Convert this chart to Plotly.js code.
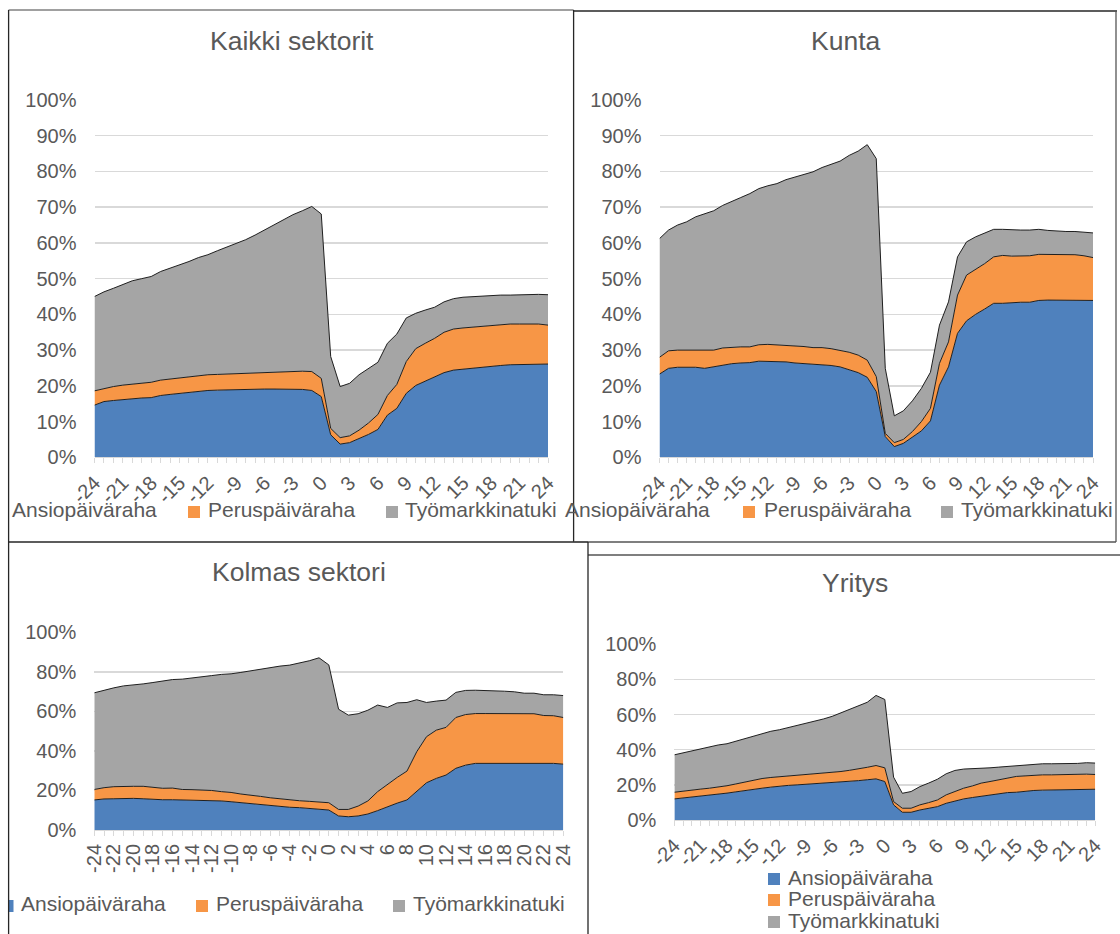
<!DOCTYPE html>
<html><head><meta charset="utf-8">
<script src="https://cdn.plot.ly/plotly-3.0.1.min.js"></script>
<style>html,body{margin:0;padding:0;background:#fff}#chart{width:1120px;height:934px}</style>
</head><body><div id="chart"></div>
<script>
const months = [-24,-23,-22,-21,-20,-19,-18,-17,-16,-15,-14,-13,-12,-11,-10,-9,-8,-7,-6,-5,-4,-3,-2,-1,0,1,2,3,4,5,6,7,8,9,10,11,12,13,14,15,16,17,18,19,20,21,22,23,24];
const seriesNames = ['Ansiopäiväraha','Peruspäiväraha','Työmarkkinatuki'];
const seriesColors = ['#4F81BD','#F79646','#A5A5A5'];
const panelTitles = ['Kaikki sektorit','Kunta','Kolmas sektori','Yritys'];
const ticksEvery3 = [-24,-21,-18,-15,-12,-9,-6,-3,0,3,6,9,12,15,18,21,24];
const ticksEvery2 = [-24,-22,-20,-18,-16,-14,-12,-10,-8,-6,-4,-2,0,2,4,6,8,10,12,14,16,18,20,22,24];

// Kaikki sektorit (%)
const kaikkiAnsio = [14.6,15.6,15.9,16.2,16.4,16.6,16.7,17.3,17.6,17.9,18.2,18.6,18.7,18.8,18.9,19.0,19.0,19.1,19.1,19.1,19.1,19.1,19.0,18.7,17.0,6.3,3.7,4.1,5.2,6.4,7.8,11.8,13.7,17.9,20.1,21.3,22.4,23.7,24.4,24.7,24.9,25.1,25.5,25.7,25.9,25.9,25.9,26.0,26.1];
const kaikkiPerus = [4.0,3.7,3.9,4.0,4.1,4.2,4.3,4.3,4.3,4.3,4.3,4.4,4.4,4.4,4.4,4.4,4.5,4.5,4.6,4.7,4.8,5.0,5.1,5.3,5.1,1.8,1.8,1.9,2.4,3.2,4.2,5.5,6.7,8.9,10.3,10.6,10.9,11.3,11.5,11.5,11.5,11.5,11.5,11.5,11.4,11.4,11.4,11.3,10.9];
const kaikkiTyo = [26.4,27.0,27.5,28.2,28.9,29.2,29.6,30.4,31.0,31.7,32.3,32.9,33.6,34.6,35.5,36.5,37.4,38.6,39.9,41.3,42.6,43.8,44.9,46.2,46.0,20.1,14.3,14.7,15.5,15.3,14.6,14.6,14.1,12.2,9.9,9.3,8.7,8.5,8.5,8.6,8.6,8.5,8.3,8.2,8.1,8.2,8.1,8.3,8.5];

// Kunta (%)
const kuntaAnsio = [23.3,24.9,25.2,25.2,25.2,24.9,25.3,25.9,26.2,26.4,26.5,26.9,26.9,26.8,26.7,26.4,26.2,26.0,26.0,25.7,25.3,24.4,23.7,22.4,18.4,5.8,3.0,3.9,5.6,7.4,10.2,20.2,25.3,34.7,38.2,40.0,41.5,43.1,43.1,43.3,43.4,43.4,43.9,44.0,44.0,43.9,44.0,43.9,43.9];
const kuntaPerus = [4.7,4.9,4.8,4.8,4.8,5.0,4.7,4.7,4.6,4.5,4.4,4.6,4.7,4.7,4.7,4.9,4.8,4.7,4.7,4.7,4.7,5.0,4.9,4.8,4.2,0.9,1.1,1.1,1.6,2.6,3.5,6.1,7.0,10.7,12.8,12.6,12.7,13.0,13.4,13.0,12.9,13.0,12.9,12.8,12.8,12.9,12.7,12.5,12.0];
const kuntaTyo = [33.2,33.8,35.0,35.9,37.3,38.3,39.0,39.9,40.9,41.8,42.9,43.7,44.4,45.1,46.3,47.2,48.1,49.2,50.4,51.5,52.9,55.1,57.1,60.3,61.0,18.2,7.5,8.0,8.6,9.3,10.1,10.7,11.2,10.7,9.3,9.1,8.6,7.7,7.3,7.3,7.3,7.2,7.0,6.7,6.5,6.4,6.5,6.6,6.9];

// Kolmas sektori (%)
const kolmasAnsio = [15.2,15.7,15.8,16.0,16.0,15.8,15.5,15.3,15.3,15.2,15.2,15.0,15.0,14.7,14.3,13.8,13.3,12.8,12.3,11.8,11.5,11.3,10.9,10.6,10.1,7.1,6.7,7.1,8.1,9.8,11.8,13.6,15.2,19.4,23.9,26.1,27.8,31.2,32.8,33.7,33.7,33.9,34.0,34.0,34.0,34.0,33.7,33.7,33.3];
const kolmasPerus = [5.3,5.7,6.1,6.1,6.1,6.3,6.1,5.8,5.9,5.3,5.2,5.2,5.0,4.7,4.7,4.4,4.4,4.2,4.0,3.9,3.7,3.5,3.6,3.5,3.7,3.3,3.7,5.0,6.6,9.6,11.3,13.0,14.6,20.2,23.3,24.4,24.1,25.7,25.6,25.2,25.2,25.0,24.9,24.9,24.8,24.8,24.2,24.1,23.6];
const kolmasTyo = [48.9,49.3,50.0,50.8,51.2,51.8,53.0,54.2,54.9,55.8,56.4,57.3,58.1,59.3,60.0,61.5,62.8,64.2,65.9,67.2,68.2,69.7,71.1,73.0,69.7,50.7,47.7,46.7,45.9,43.8,38.9,37.7,34.7,26.3,17.3,14.7,13.8,12.7,12.2,11.8,11.7,11.3,11.3,11.0,10.4,10.4,10.5,10.6,11.1];

// Yritys (%)
const yritysAnsio = [12.0,12.5,13.0,13.6,14.1,14.7,15.3,16.0,16.8,17.6,18.1,18.7,19.4,19.7,20.0,20.3,20.6,21.0,21.3,21.6,22.0,22.4,22.9,23.4,21.9,8.6,4.4,4.4,5.7,6.7,7.6,9.5,10.9,12.0,12.8,13.5,14.3,15.0,15.6,15.8,16.4,16.8,17.0,17.1,17.1,17.1,17.3,17.5,17.5];
const yritysPerus = [3.8,4.0,4.1,4.0,4.0,4.0,4.2,4.5,4.8,5.3,5.5,5.5,5.2,5.1,5.3,5.4,5.4,5.5,5.7,6.0,6.3,6.6,7.1,7.6,7.8,1.9,2.3,2.3,2.9,3.2,3.8,4.8,5.3,6.1,6.6,7.5,7.6,7.9,8.2,9.0,8.7,8.7,8.7,8.6,8.8,8.8,8.6,8.6,8.4];
const yritysTyo = [21.3,21.7,22.3,23.1,23.8,24.0,23.9,24.3,24.5,24.7,25.5,26.3,26.8,27.8,28.4,29.3,30.2,31.0,32.0,33.4,34.6,35.8,37.0,39.9,38.9,13.9,8.5,9.5,10.4,11.1,11.8,12.0,12.0,10.9,9.7,8.3,7.8,7.2,6.7,6.2,6.1,6.1,6.3,6.3,6.1,6.1,6.3,6.5,6.5];

const panelSeries = [
  [kaikkiAnsio, kaikkiPerus, kaikkiTyo],
  [kuntaAnsio, kuntaPerus, kuntaTyo],
  [kolmasAnsio, kolmasPerus, kolmasTyo],
  [yritysAnsio, yritysPerus, yritysTyo]
];

const W = 1120, H = 934;
const px = v => v / W;
const py = v => 1 - v / H;
const FONT = 'Liberation Sans, Arial, sans-serif';
const TXT = '#595959';

const traces = [];
panelSeries.forEach((ser, p) => {
  const suf = p === 0 ? '' : String(p + 1);
  ser.forEach((vals, s) => {
    traces.push({
      type: 'scatter', mode: 'lines', x: months, y: vals,
      name: seriesNames[s], stackgroup: 'g' + p,
      fillcolor: seriesColors[s],
      line: {color: '#1f1f1f', width: 1},
      xaxis: 'x' + suf, yaxis: 'y' + suf,
      showlegend: false, hoverinfo: 'skip'
    });
  });
});

function xAx(domain, anchor, tickvals, angle) {
  return {
    domain, anchor, range: [-24, 24], tickmode: 'array', tickvals,
    ticktext: tickvals.map(String), tickangle: angle,
    showgrid: false, zeroline: false, showline: true, linecolor: '#d9d9d9', linewidth: 1,
    ticks: 'outside', ticklen: 5, tickcolor: '#d9d9d9', tickwidth: 1,
    minor: {tickmode: 'linear', tick0: 0, dtick: 1, ticks: 'outside', ticklen: 5, tickcolor: '#d9d9d9', showgrid: false},
    tickfont: {family: FONT, size: 20, color: TXT}, fixedrange: true
  };
}
function yAx(domain, anchor, dtick) {
  return {
    domain, anchor, range: [0, 100], dtick, tick0: 0, ticksuffix: '%',
    showgrid: true, gridcolor: '#d9d9d9', gridwidth: 1.5, zeroline: false, showline: false,
    ticks: '', ticklabelstandoff: 17,
    tickfont: {family: FONT, size: 20, color: TXT}, fixedrange: true
  };
}

const layout = {
  width: W, height: H, margin: {l: 0, r: 0, t: 0, b: 0},
  paper_bgcolor: '#fff', plot_bgcolor: 'rgba(0,0,0,0)', showlegend: false,
  font: {family: FONT, color: TXT},
  xaxis: xAx([px(94.5), px(548)], 'y', ticksEvery3, -45),
  yaxis: yAx([py(457.3), py(100)], 'x', 10),
  xaxis2: xAx([px(659.5), px(1093)], 'y2', ticksEvery3, -45),
  yaxis2: yAx([py(457.3), py(100)], 'x2', 10),
  xaxis3: xAx([px(94.3), px(563.3)], 'y3', ticksEvery2, -90),
  yaxis3: yAx([py(830), py(632.3)], 'x3', 20),
  xaxis4: xAx([px(674.4), px(1095.2)], 'y4', ticksEvery3, -45),
  yaxis4: yAx([py(820), py(644.3)], 'x4', 20),
  annotations: [],
  shapes: []
};

// Titles
const titlePos = [[291.5, 41], [845.5, 41], [298.5, 572], [855, 583]];
panelTitles.forEach((t, i) => {
  layout.annotations.push({text: t, x: px(titlePos[i][0]), y: py(titlePos[i][1]), xref: 'paper', yref: 'paper',
    xanchor: 'center', yanchor: 'middle', showarrow: false, font: {family: FONT, size: 26.5, color: TXT}});
});

// Legends (Excel-style: square + label)
function legText(text, x, y, anchor) {
  layout.annotations.push({text, x: px(x), y: py(y), xref: 'paper', yref: 'paper', xanchor: anchor || 'left',
    yanchor: 'middle', showarrow: false, font: {family: FONT, size: 21, color: TXT}});
}
function legBox(x0, x1, yc, color) {
  layout.shapes.push({type: 'rect', xref: 'paper', yref: 'paper', x0: px(x0), x1: px(x1), y0: py(yc + 6), y1: py(yc - 6),
    fillcolor: color, line: {width: 0}});
}
// panel 1
legText(seriesNames[0], 10, 509);
legBox(188, 200, 512, seriesColors[1]); legText(seriesNames[1], 206, 509);
legBox(386, 398, 512, seriesColors[2]); legText(seriesNames[2], 403, 509);
// panel 2
legText(seriesNames[0], 712, 509, 'right');
legBox(743, 755, 512, seriesColors[1]); legText(seriesNames[1], 762, 509);
legBox(941, 953, 512, seriesColors[2]); legText(seriesNames[2], 959, 509);
// panel 3
legBox(8.6, 13.5, 906, seriesColors[0]); legText(seriesNames[0], 18.5, 903);
legBox(196, 208, 906, seriesColors[1]); legText(seriesNames[1], 214, 903);
legBox(393, 405, 906, seriesColors[2]); legText(seriesNames[2], 411, 903);
// panel 4 (vertical)
[877, 898, 920].forEach((yy, i) => {
  legBox(768, 780, yy + 2, seriesColors[i]); legText(seriesNames[i], 786, yy);
});

// Panel frames
function frameLine(x0, y0, x1, y1, color) {
  layout.shapes.push({type: 'line', xref: 'paper', yref: 'paper', x0: px(x0), y0: py(y0), x1: px(x1), y1: py(y1),
    line: {color: color || '#262626', width: 1.3}});
}
frameLine(8.6, 10, 573.6, 10, '#808080');
frameLine(8.6, 10, 8.6, 934);
frameLine(573.6, 10, 573.6, 542);
frameLine(573.6, 11, 1117, 11);
frameLine(1116, 11, 1116, 542, '#555');
frameLine(8.6, 542, 588, 542);
frameLine(573.6, 542, 1116, 542, '#555');
frameLine(588, 555, 1120, 555, '#555');
frameLine(588, 542, 588, 934);

Plotly.newPlot('chart', traces, layout, {displayModeBar: false, staticPlot: true});
</script>
</body></html>
